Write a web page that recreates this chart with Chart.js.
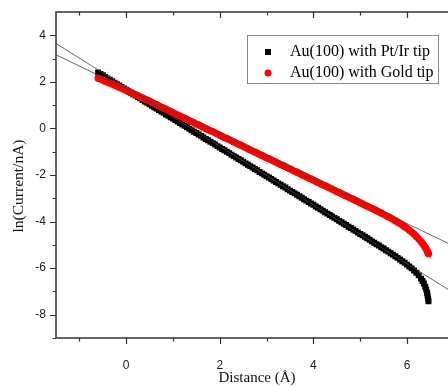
<!DOCTYPE html>
<html>
<head>
<meta charset="utf-8">
<script src="https://cdn.jsdelivr.net/npm/chart.js@4/dist/chart.umd.min.js"></script>
<style>
  html, body { margin: 0; padding: 0; background: #fff; overflow: hidden; }
  #wrap { width: 458px; height: 387px; position: relative; }
</style>
</head>
<body>
<div id="wrap"><canvas id="chart"></canvas></div>
<script>
// Distance (Å) of each measured point, shared by both tips
var distance = [
  -0.60, -0.55, -0.50, -0.45, -0.40, -0.35, -0.30, -0.25, -0.20, -0.15,
  -0.10, -0.05, 0.00, 0.05, 0.10, 0.15, 0.20, 0.25, 0.30, 0.35,
  0.40, 0.45, 0.50, 0.55, 0.60, 0.65, 0.70, 0.75, 0.80, 0.85,
  0.90, 0.95, 1.00, 1.05, 1.10, 1.15, 1.20, 1.25, 1.30, 1.35,
  1.40, 1.45, 1.50, 1.55, 1.60, 1.65, 1.70, 1.75, 1.80, 1.85,
  1.90, 1.95, 2.00, 2.05, 2.10, 2.15, 2.20, 2.25, 2.30, 2.35,
  2.40, 2.45, 2.50, 2.55, 2.60, 2.65, 2.70, 2.75, 2.80, 2.85,
  2.90, 2.95, 3.00, 3.05, 3.10, 3.15, 3.20, 3.25, 3.30, 3.35,
  3.40, 3.45, 3.50, 3.55, 3.60, 3.65, 3.70, 3.75, 3.80, 3.85,
  3.90, 3.95, 4.00, 4.05, 4.10, 4.15, 4.20, 4.25, 4.30, 4.35,
  4.40, 4.45, 4.50, 4.55, 4.60, 4.65, 4.70, 4.75, 4.80, 4.85,
  4.90, 4.95, 5.00, 5.05, 5.10, 5.15, 5.20, 5.25, 5.30, 5.35,
  5.40, 5.45, 5.50, 5.55, 5.60, 5.65, 5.70, 5.75, 5.80, 5.85,
  5.90, 5.95, 6.00, 6.05, 6.10, 6.15, 6.20, 6.25, 6.30,
  6.33, 6.36, 6.39, 6.41, 6.43, 6.44, 6.45, 6.46
];
// ln(Current/nA), Au(100) with Pt/Ir tip
var ptIrCurrent = [
  2.40, 2.34, 2.28, 2.21, 2.15, 2.09, 2.03, 1.96, 1.90, 1.84,
  1.78, 1.72, 1.66, 1.59, 1.53, 1.47, 1.41, 1.35, 1.29, 1.22,
  1.16, 1.10, 1.04, 0.97, 0.91, 0.85, 0.79, 0.73, 0.67, 0.60,
  0.54, 0.48, 0.42, 0.36, 0.30, 0.23, 0.17, 0.11, 0.05, -0.02,
  -0.08, -0.14, -0.20, -0.26, -0.32, -0.39, -0.45, -0.51, -0.57, -0.63,
  -0.69, -0.76, -0.82, -0.88, -0.94, -1.00, -1.06, -1.13, -1.19, -1.25,
  -1.31, -1.37, -1.43, -1.50, -1.56, -1.62, -1.68, -1.74, -1.80, -1.87,
  -1.93, -1.99, -2.05, -2.11, -2.17, -2.24, -2.30, -2.36, -2.42, -2.48,
  -2.54, -2.61, -2.67, -2.73, -2.79, -2.85, -2.91, -2.98, -3.04, -3.10,
  -3.16, -3.22, -3.28, -3.35, -3.41, -3.47, -3.53, -3.60, -3.66, -3.72,
  -3.78, -3.84, -3.90, -3.97, -4.03, -4.09, -4.15, -4.22, -4.28, -4.34,
  -4.40, -4.47, -4.53, -4.59, -4.65, -4.72, -4.78, -4.85, -4.91, -4.97,
  -5.03, -5.10, -5.16, -5.23, -5.29, -5.36, -5.42, -5.49, -5.56, -5.63,
  -5.70, -5.77, -5.85, -5.93, -6.01, -6.10, -6.20, -6.31, -6.45,
  -6.55, -6.66, -6.80, -6.92, -7.06, -7.18, -7.30, -7.42
];
// ln(Current/nA), Au(100) with Gold tip
var goldCurrent = [
  2.16, 2.12, 2.08, 2.03, 1.99, 1.95, 1.91, 1.86, 1.82, 1.77,
  1.73, 1.68, 1.64, 1.59, 1.55, 1.50, 1.45, 1.41, 1.36, 1.31,
  1.26, 1.22, 1.17, 1.12, 1.07, 1.02, 0.97, 0.92, 0.87, 0.83,
  0.78, 0.73, 0.68, 0.63, 0.58, 0.53, 0.48, 0.44, 0.39, 0.34,
  0.29, 0.24, 0.19, 0.15, 0.10, 0.05, 0.00, -0.05, -0.10, -0.14,
  -0.19, -0.24, -0.29, -0.34, -0.39, -0.43, -0.48, -0.53, -0.58, -0.63,
  -0.68, -0.72, -0.77, -0.82, -0.87, -0.92, -0.97, -1.01, -1.06, -1.11,
  -1.16, -1.21, -1.26, -1.30, -1.35, -1.40, -1.45, -1.50, -1.55, -1.59,
  -1.64, -1.69, -1.74, -1.79, -1.84, -1.88, -1.93, -1.98, -2.03, -2.08,
  -2.13, -2.17, -2.22, -2.27, -2.32, -2.37, -2.42, -2.46, -2.51, -2.56,
  -2.61, -2.66, -2.71, -2.75, -2.80, -2.85, -2.90, -2.95, -3.00, -3.04,
  -3.09, -3.14, -3.19, -3.24, -3.29, -3.34, -3.39, -3.43, -3.48, -3.53,
  -3.58, -3.63, -3.69, -3.74, -3.79, -3.84, -3.90, -3.96, -4.02, -4.08,
  -4.15, -4.22, -4.29, -4.37, -4.45, -4.54, -4.64, -4.74, -4.86,
  -4.93, -5.02, -5.11, -5.18, -5.25, -5.30, -5.34, -5.38
];
// straight-line fits, given at the two ends of the x range
var fitX = [-1.5, 7];
var ptIrFit = [3.65, -7.07];
var goldFit = [3.16, -5.05];

var xTicks = [0, 2, 4, 6];
var xMinorTicks = [-1, 1, 3, 5];
var yTicks = [-8, -6, -4, -2, 0, 2, 4];
var yMinorTicks = [-9, -7, -5, -3, -1, 1, 3];

var seriesNames = ['Au(100) with Pt/Ir tip', 'Au(100) with Gold tip'];
var xTitle = 'Distance (Å)';
var yTitle = 'ln(Current/nA)';

function pairs(xs, ys) {
  return xs.map(function(x, i) { return { x: x, y: ys[i] }; });
}

var axisColor = '#333';
var serif = '"Liberation Serif", "Times New Roman", serif';
var sans = '"Liberation Sans", Arial, sans-serif';

// frame, inward/outward tick marks, axis titles and legend box
var frameAndLegend = {
  id: 'frameAndLegend',
  afterDraw: function(chart) {
    var ctx = chart.ctx;
    var area = chart.chartArea;
    var xs = chart.scales.x;
    var ys = chart.scales.y;

    ctx.save();
    ctx.strokeStyle = axisColor;
    ctx.lineWidth = 1.5;
    ctx.beginPath();
    ctx.moveTo(area.left, area.top);
    ctx.lineTo(area.left, area.bottom);
    ctx.lineTo(area.right, area.bottom);
    ctx.lineTo(area.right, area.top);
    ctx.closePath();
    ctx.stroke();

    ctx.lineWidth = 1.2;
    ctx.beginPath();
    function xTick(v, len) {
      var px = Math.round(xs.getPixelForValue(v)) + 0.5;
      ctx.moveTo(px, area.bottom);
      ctx.lineTo(px, area.bottom + len);
      ctx.moveTo(px, area.top);
      ctx.lineTo(px, area.top + len);
    }
    function yTick(v, len) {
      var py = Math.round(ys.getPixelForValue(v)) + 0.5;
      ctx.moveTo(area.left, py);
      ctx.lineTo(area.left - len, py);
    }
    xTicks.forEach(function(v) { xTick(v, 6); });
    xMinorTicks.forEach(function(v) { xTick(v, 3.5); });
    yTicks.forEach(function(v) { yTick(v, 6); });
    yMinorTicks.forEach(function(v) { yTick(v, 3.5); });
    ctx.stroke();

    // axis titles
    ctx.fillStyle = '#111';
    ctx.textAlign = 'center';
    ctx.textBaseline = 'middle';
    ctx.font = '15px ' + serif;
    ctx.fillText(xTitle, 257, 378);
    ctx.save();
    ctx.translate(19, 186);
    ctx.rotate(-Math.PI / 2);
    ctx.font = '15.5px ' + serif;
    ctx.fillText(yTitle, 0, 0);
    ctx.restore();

    // legend
    ctx.strokeStyle = '#888';
    ctx.lineWidth = 1;
    ctx.strokeRect(247.5, 35.5, 191, 48);
    var rows = [52, 73];
    ctx.fillStyle = '#000';
    ctx.fillRect(265, rows[0] - 3, 6, 6);
    ctx.fillStyle = '#ff0000';
    ctx.beginPath();
    ctx.arc(268, rows[1], 3.5, 0, Math.PI * 2);
    ctx.fill();
    ctx.fillStyle = '#000';
    ctx.textAlign = 'left';
    ctx.font = '16px ' + serif;
    ctx.fillText(seriesNames[0], 290, rows[0]);
    ctx.fillText(seriesNames[1], 290, rows[1]);
    ctx.restore();
  }
};

var context = document.getElementById('chart').getContext('2d');
var chart = new Chart(context, {
  type: 'scatter',
  data: {
    datasets: [
      {
        label: seriesNames[0],
        data: pairs(distance, ptIrCurrent),
        pointStyle: 'rect',
        pointRadius: 4.2,
        backgroundColor: '#000',
        borderColor: '#000',
        borderWidth: 0,
        order: 2
      },
      {
        label: seriesNames[1],
        data: pairs(distance, goldCurrent),
        pointStyle: 'circle',
        pointRadius: 3.6,
        backgroundColor: '#ff0000',
        borderColor: '#ff0000',
        borderWidth: 0,
        order: 1
      },
      {
        label: 'Pt/Ir fit',
        data: pairs(fitX, ptIrFit),
        showLine: true,
        pointRadius: 0,
        borderColor: '#444',
        borderWidth: 0.8,
        order: 0
      },
      {
        label: 'Gold fit',
        data: pairs(fitX, goldFit),
        showLine: true,
        pointRadius: 0,
        borderColor: '#444',
        borderWidth: 0.8,
        order: 0
      }
    ]
  },
  options: {
    responsive: true,
    maintainAspectRatio: false,
    animation: false,
    layout: { padding: { top: 12, right: 1, left: 0, bottom: 0 } },
    plugins: {
      legend: { display: false },
      tooltip: { enabled: false }
    },
    scales: {
      x: {
        type: 'linear',
        min: -1.5,
        max: 7,
        grid: { display: false, drawTicks: false },
        border: { display: false },
        afterBuildTicks: function(scale) {
          scale.ticks = xTicks.map(function(v) { return { value: v }; });
        },
        afterFit: function(scale) {
          scale.height = 49;
          scale.paddingLeft = 0;
          scale.paddingRight = 0;
        },
        ticks: {
          padding: 20,
          color: '#222',
          font: { family: sans, size: 12 }
        }
      },
      y: {
        type: 'linear',
        min: -9,
        max: 5,
        grid: { display: false, drawTicks: false },
        border: { display: false },
        afterBuildTicks: function(scale) {
          scale.ticks = yTicks.map(function(v) { return { value: v }; });
        },
        afterFit: function(scale) {
          scale.width = 56;
          scale.paddingTop = 0;
          scale.paddingBottom = 0;
        },
        ticks: {
          padding: 10,
          color: '#222',
          font: { family: sans, size: 12 }
        }
      }
    }
  },
  plugins: [frameAndLegend]
});
</script>
</body>
</html>
